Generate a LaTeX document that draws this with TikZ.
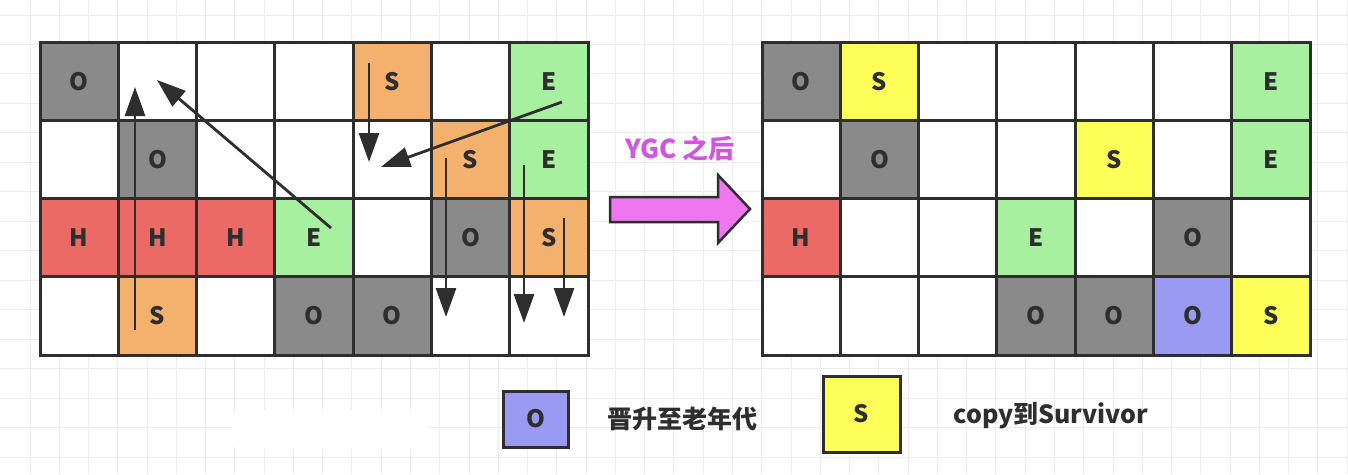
\documentclass[tikz,border=0pt]{standalone}
\usepackage{fontspec}
\setmainfont{Noto Sans CJK SC}
\usetikzlibrary{arrows.meta}
\definecolor{cgray}{HTML}{8A8A8A}
\definecolor{corange}{HTML}{F4B16E}
\definecolor{cgreen}{HTML}{A6F0A0}
\definecolor{cred}{HTML}{EC6A66}
\definecolor{cyellow}{HTML}{FFFF5A}
\definecolor{cblue}{HTML}{9A9AF2}
\definecolor{cline}{HTML}{2E2E2E}
\definecolor{cmag}{HTML}{EE77F0}
\definecolor{ctext}{HTML}{D055E0}
\definecolor{bgline}{HTML}{ECECEC}
\begin{document}
\begin{tikzpicture}[x=1pt,y=-1pt,
  cellbox/.style={draw=cline, line width=3pt, minimum width=78.3pt, minimum height=78.3pt,
    inner sep=0pt, font=\fontsize{24}{24}\selectfont\bfseries, text=cline},
  mv/.style={draw=cline, line width=2.8pt, -{Triangle[length=29pt,width=20pt]}},
  legtext/.style={font=\fontsize{25}{25}\selectfont\bfseries, text=cline}]
% background
\fill[white] (0,0) rectangle (1348,474);
\useasboundingbox (0,0) rectangle (1348,474);
\foreach \i in {0,...,45} \draw[bgline, line width=1pt] ({30+29.27*\i},0) -- ++(0,474);
\foreach \j in {0,...,15} \draw[bgline, line width=1pt] (0,{15+29.47*\j}) -- ++(1348,0);
\fill[white, rounded corners=6pt] (233,411) rectangle (427,449);
% left grid
\foreach \row [count=\r from 0] in {
  {cgray/O,white/{},white/{},white/{},corange/S,white/{},cgreen/E},
  {white/{},cgray/O,white/{},white/{},white/{},corange/S,cgreen/E},
  {cred/H,cred/H,cred/H,cgreen/E,white/{},cgray/O,corange/S},
  {white/{},corange/S,white/{},cgray/O,cgray/O,white/{},white/{}}} {
  \foreach \col/\t [count=\c from 0] in \row {
    \node[cellbox, fill=\col] (L-\r-\c) at ({40+78.3*(\c+0.5)},{42+78.3*(\r+0.5)}) {\t};
  }
}
% right grid
\foreach \row [count=\r from 0] in {
  {cgray/O,cyellow/S,white/{},white/{},white/{},white/{},cgreen/E},
  {white/{},cgray/O,white/{},white/{},cyellow/S,white/{},cgreen/E},
  {cred/H,white/{},white/{},cgreen/E,white/{},cgray/O,white/{}},
  {white/{},white/{},white/{},cgray/O,cgray/O,cblue/O,cyellow/S}} {
  \foreach \col/\t [count=\c from 0] in \row {
    \node[cellbox, fill=\col] (R-\r-\c) at ({762+78.3*(\c+0.5)},{42+78.3*(\r+0.5)}) {\t};
  }
}
% movement arrows
\coordinate (a1s) at (135,330); \coordinate (a1e) at (135,87);
\coordinate (a2s) at (331,228); \coordinate (a2e) at (157,80);
\coordinate (a3s) at (369,63);  \coordinate (a3e) at (369,162);
\coordinate (a4s) at (562,102); \coordinate (a4e) at (381,167);
\coordinate (a5s) at (446,158); \coordinate (a5e) at (446,317);
\coordinate (a6s) at (524,165); \coordinate (a6e) at (524,323);
\coordinate (a7s) at (564,218); \coordinate (a7e) at (564,317);
\foreach \k in {1,...,7} \draw[mv] (a\k s) -- (a\k e);
% big arrow
\draw[fill=cmag, draw=cline, line width=2.5pt, line join=miter]
  (610,197) -- (718,197) -- (718,175) -- (750,209) -- (718,243) -- (718,222) -- (610,222) -- cycle;
\node[font=\fontsize{26}{26}\selectfont\bfseries, text=ctext] (ygc) at (680,148) {YGC 之后};
% legend
\node[cellbox, fill=cblue, minimum width=65pt, minimum height=56pt] (legO) at (535.5,419) {O};
\node[legtext, anchor=west] (legOt) at (604,419) {晋升至老年代};
\node[cellbox, fill=cyellow, minimum width=77pt, minimum height=76pt] (legS) at (861.5,414) {S};
\node[legtext, anchor=west] (legSt) at (950,416) {copy到Survivor};
\end{tikzpicture}
\end{document}
